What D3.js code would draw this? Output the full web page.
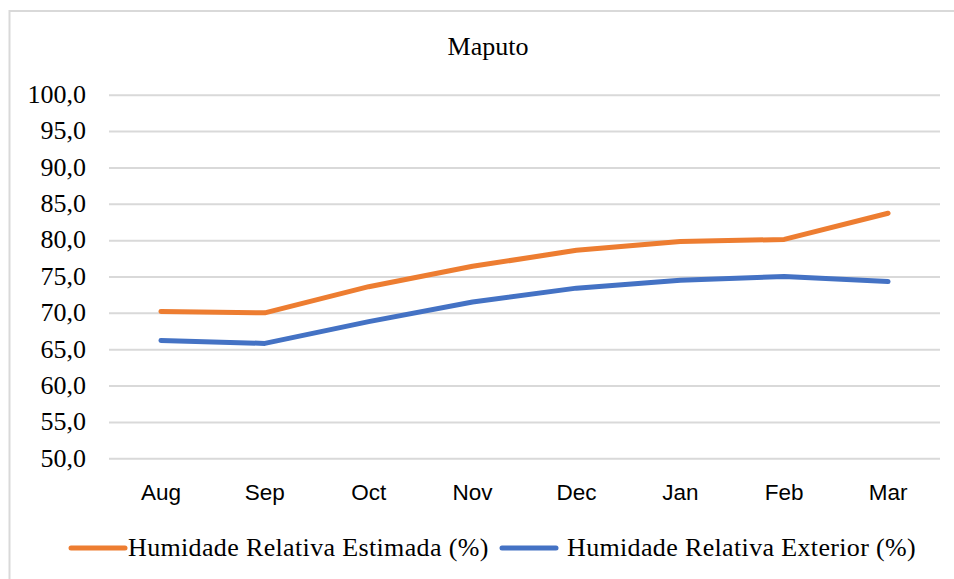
<!DOCTYPE html>
<html>
<head>
<meta charset="utf-8">
<script src="https://cdn.jsdelivr.net/npm/d3@7"></script>
<style>
  body { margin: 0; background: #fff; }
  svg { display: block; }
</style>
</head>
<body>
<svg width="954" height="579"></svg>
<script>
const months    = ['Aug', 'Sep', 'Oct', 'Nov', 'Dec', 'Jan', 'Feb', 'Mar'];
const estimada  = [70.2, 70.0, 73.6, 76.4, 78.6, 79.8, 80.1, 83.7];
const exterior  = [66.2, 65.8, 68.8, 71.5, 73.4, 74.5, 75.0, 74.3];
const yTicks    = [50, 55, 60, 65, 70, 75, 80, 85, 90, 95, 100];
const seriesNames = ['Humidade Relativa Estimada (%)', 'Humidade Relativa Exterior (%)'];
const colors    = ['#ED7D31', '#4472C4'];

const svg = d3.select('svg');
const width  = +svg.attr('width');
const height = +svg.attr('height');

const serif = '"Liberation Serif", "Times New Roman", serif';
const sans  = '"Liberation Sans", Arial, sans-serif';

// outer chart border (right/bottom edges fall outside the picture)
svg.append('rect')
  .attr('x', 9.5).attr('y', 11)
  .attr('width', width + 20).attr('height', height + 20)
  .attr('fill', 'none')
  .attr('stroke', '#D9D9D9')
  .attr('stroke-width', 2);

const plot = { left: 109, right: 940, top: 94.7, bottom: 458.3 };

const xScale = d3.scaleBand()
  .domain(months)
  .range([plot.left, plot.right]);

const yScale = d3.scaleLinear()
  .domain([50, 100])
  .range([plot.bottom, plot.top]);

// horizontal gridlines + tick labels
const yAxis = d3.axisLeft(yScale)
  .tickValues(yTicks)
  .tickSize(-(plot.right - plot.left))
  .tickPadding(23)
  .tickFormat(d => d3.format('.1f')(d).replace('.', ','));
const yAxisG = svg.append('g')
  .attr('transform', `translate(${plot.left},0)`)
  .call(yAxis);
yAxisG.select('.domain').remove();
yAxisG.selectAll('.tick line')
  .attr('stroke', '#D9D9D9')
  .attr('stroke-width', 2);
yAxisG.selectAll('.tick text')
  .attr('fill', '#000')
  .attr('dy', '0.3em')
  .style('font-family', serif)
  .style('font-size', '26px');

// category labels
const xAxis = d3.axisBottom(xScale).tickSize(0).tickPadding(0);
const xAxisG = svg.append('g')
  .attr('transform', `translate(0,${plot.bottom})`)
  .call(xAxis);
xAxisG.select('.domain').remove();
xAxisG.selectAll('.tick text')
  .attr('fill', '#000')
  .attr('y', 42)
  .attr('dy', 0)
  .style('font-family', sans)
  .style('font-size', '22.5px');

// title
svg.append('text')
  .attr('x', 488)
  .attr('y', 55)
  .attr('text-anchor', 'middle')
  .style('font-family', serif)
  .style('font-size', '26px')
  .text('Maputo');

// lines
const line = d3.line()
  .x((d, i) => xScale(months[i]) + xScale.bandwidth() / 2)
  .y(d => yScale(d));

[estimada, exterior].forEach((values, k) => {
  svg.append('path')
    .datum(values)
    .attr('d', line)
    .attr('fill', 'none')
    .attr('stroke', colors[k])
    .attr('stroke-width', 5)
    .attr('stroke-linecap', 'round')
    .attr('stroke-linejoin', 'round');
});

// legend
const legendX = [71, 502];
const legendY = 548;
seriesNames.forEach((name, k) => {
  svg.append('line')
    .attr('x1', legendX[k]).attr('x2', legendX[k] + 54)
    .attr('y1', legendY).attr('y2', legendY)
    .attr('stroke', colors[k])
    .attr('stroke-width', 5)
    .attr('stroke-linecap', 'round');
  svg.append('text')
    .attr('x', legendX[k] + (k === 0 ? 57 : 65))
    .attr('y', legendY + 8)
    .style('font-family', serif)
    .style('font-size', '26px')
    .style('letter-spacing', '0.35px')
    .text(name);
});
</script>
</body>
</html>
